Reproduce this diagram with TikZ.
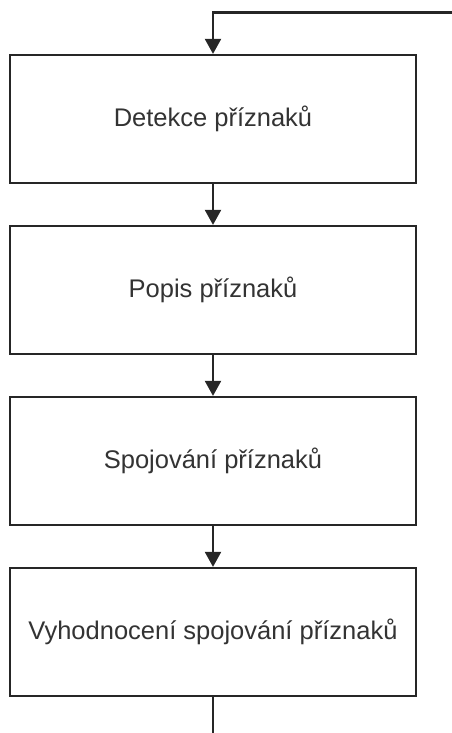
\documentclass[tikz,border=0pt]{standalone}
\usepackage{fontspec}
\setmainfont{Liberation Sans}
\usetikzlibrary{arrows.meta}
\begin{document}
\begin{tikzpicture}[x=1pt,y=1pt,
  stepbox/.style={draw=black!85, line width=2.2pt, fill=white, rectangle,
    minimum width=406pt, minimum height=128pt, inner sep=0pt,
    font=\fontsize{25.5pt}{30pt}\selectfont, text=black!80},
  conn/.style={draw=black!85, line width=2.2pt},
  arr/.style={conn, -{Triangle[length=15pt, width=16pt]}}]
\useasboundingbox (0,0) rectangle (451,-733);
\node[stepbox] (b1) at (213,-119) {Detekce příznaků};
\node[stepbox] (b2) at (213,-290) {Popis příznaků};
\node[stepbox] (b3) at (213,-461) {Spojování příznaků};
\node[stepbox] (b4) at (213,-632) {Vyhodnocení spojování příznaků};
\coordinate (in) at (452,-12.5);
\coordinate (turn) at (213,-12.5);
\coordinate (out) at (213,-734);
\draw[arr] (in) -- (turn) -- (b1.north);
\draw[arr] (b1.south) -- (b2.north);
\draw[arr] (b2.south) -- (b3.north);
\draw[arr] (b3.south) -- (b4.north);
\draw[conn] (b4.south) -- (out);
\end{tikzpicture}
\end{document}
